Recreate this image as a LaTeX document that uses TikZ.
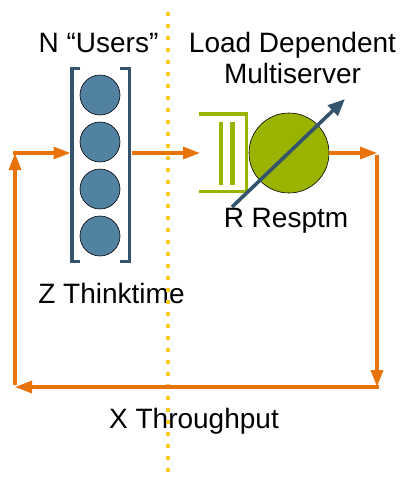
\documentclass[tikz,border=0pt]{standalone}
\usepackage{fontspec}
\setmainfont{Liberation Sans}
\usetikzlibrary{arrows.meta}

\definecolor{flow}{HTML}{E8730A}
\definecolor{slate}{HTML}{34546D}
\definecolor{userblue}{HTML}{5282A2}
\definecolor{servergreen}{HTML}{99B300}
\definecolor{divider}{HTML}{FFC520}

\tikzset{
  flowline/.style={draw=flow, line width=3.2pt, -{Triangle[length=17pt,width=12pt]}},
  bracketline/.style={draw=slate, line width=3.6pt},
  user/.style={circle, draw=black, line width=0.6pt, fill=userblue, minimum size=40pt, inner sep=0pt},
  server/.style={circle, draw=black, line width=0.6pt, fill=servergreen, minimum size=80pt, inner sep=0pt},
  queueline/.style={draw=servergreen, line width=3.6pt},
  label/.style={font=\fontsize{28}{31}\selectfont, anchor=base, inner sep=0pt, align=center},
}

\begin{document}
\begin{tikzpicture}[x=1pt, y=-1pt]
\useasboundingbox (0,0) rectangle (403,477);

% population of users between brackets
\node[user] (u1) at (100,95) {};
\node[user] (u2) at (100,142) {};
\node[user] (u3) at (100,189) {};
\node[user] (u4) at (100,236) {};
\draw[bracketline] (80,68.5) -- (72,68.5) -- (72,261.5) -- (80,261.5);
\draw[bracketline] (120,68.5) -- (129.5,68.5) -- (129.5,261.5) -- (120,261.5);
\coordinate (inL) at (70.5,153);
\coordinate (outR) at (131.5,153);

% queue and load dependent server
\draw[queueline] (199,114) -- (246.5,114) -- (246.5,191.5) -- (199,191.5);
\draw[servergreen, line width=4.2pt] (221,122) -- (221,185);
\draw[servergreen, line width=4.2pt] (232.5,122) -- (232.5,185);
\node[server] (srv) at (289,153) {};
\coordinate (qin) at (200,153);

% labels (the two-line label sits on the baseline of its last line)
\node[label] (users) at (98.5,52) {N “Users”};
\node[label] (ldm) at (292.5,83) {Load Dependent\\Multiserver};
\node[label] (resp) at (286,227) {R Resptm};
\node[label] (think) at (111.5,303) {Z Thinktime};
\node[label] (thru) at (194,428) {X Throughput};

% dividing line
\draw[divider, line width=4pt, dash pattern=on 4pt off 8pt] (168,12) -- (168,477);

% load-dependence arrow across the server
\coordinate (dtail) at (232,207);
\coordinate (dtip) at (345,99);
\draw[slate, line width=3.6pt, -{Triangle[length=17pt,width=14pt]}] (dtail) -- (dtip);

% closed loop of the flow
\coordinate (cR) at (377,153);
\coordinate (bR) at (377,387);
\coordinate (bL) at (15,387);
\coordinate (tL) at (15,153);
\draw[flowline] (outR) -- (qin);
\draw[flowline] (srv.east) -- (cR);
\draw[flowline] ([yshift=-1.6pt]cR) -- (bR);
\draw[flowline] ([xshift=1.6pt]bR) -- (bL);
\draw[flowline] ([yshift=1.6pt]bL) -- (tL);
\draw[flowline] ([xshift=-1.6pt]tL) -- (inL);
\end{tikzpicture}
\end{document}
